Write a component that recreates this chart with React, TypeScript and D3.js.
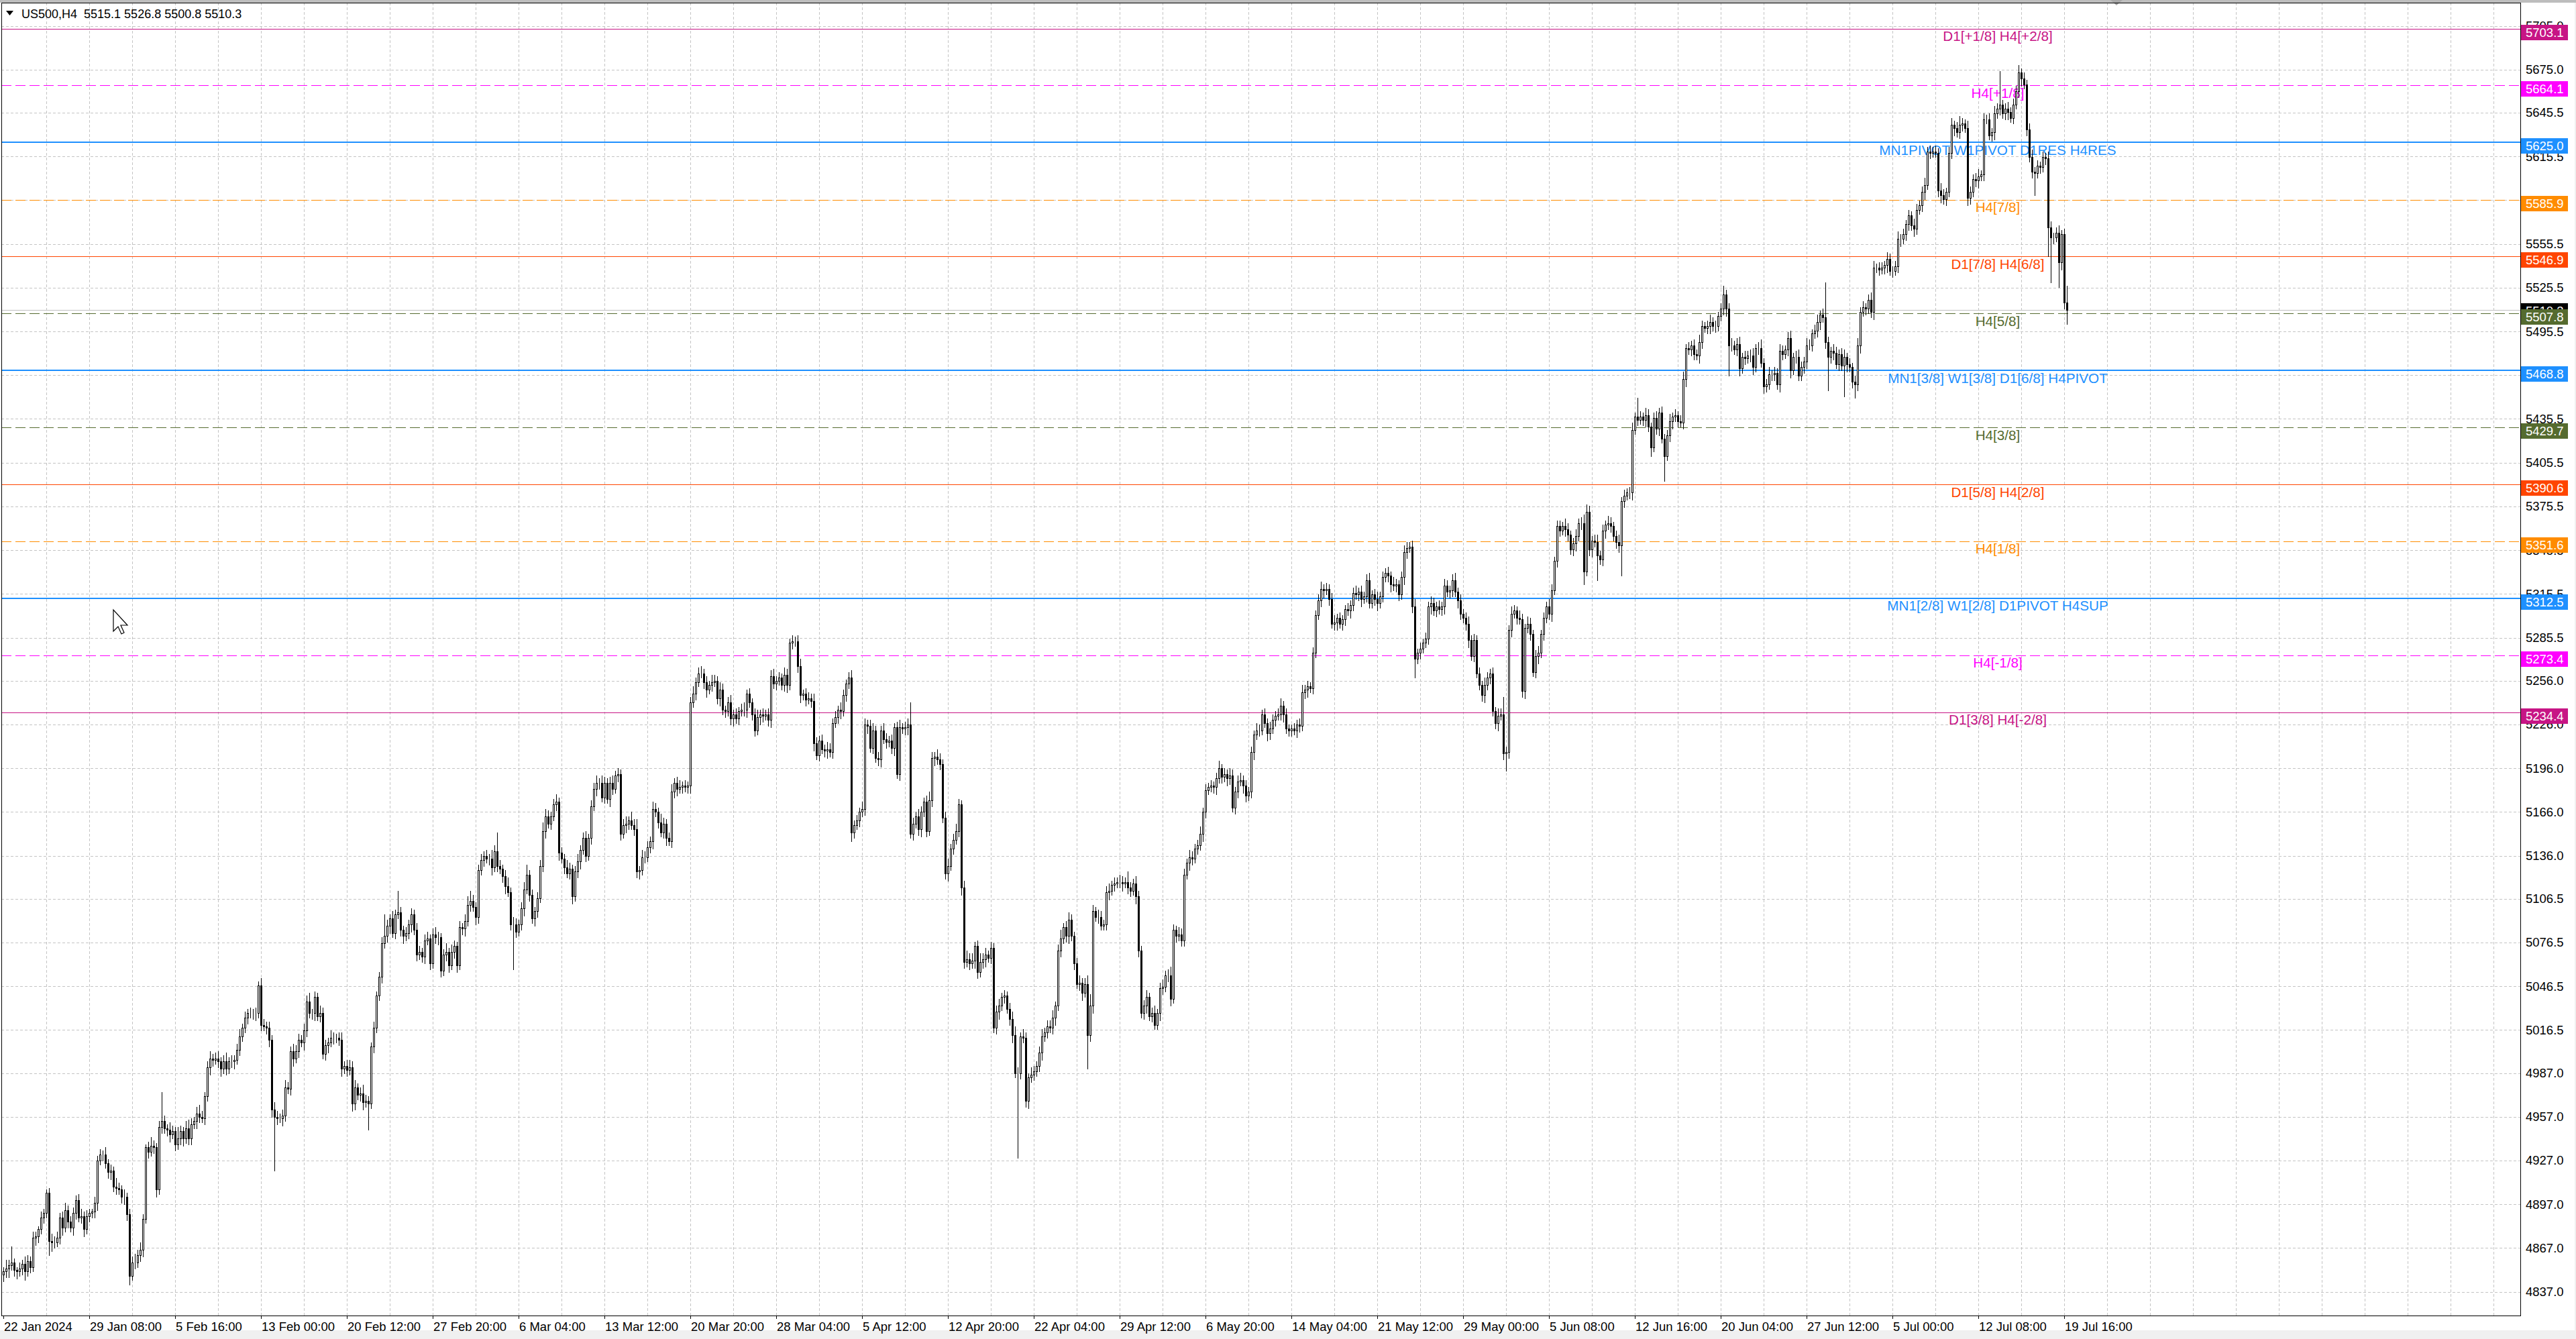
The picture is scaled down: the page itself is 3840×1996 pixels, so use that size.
import React from 'react';
import * as d3 from 'd3';

const symbol = 'US500,H4';
const firstOpen = 4849;

// H4 closes, one per bar, 22 Jan 2024 00:00 .. 19 Jul 2024 20:00
const closes = [
  4851, 4853, 4855, 4857, 4852, 4851, 4853, 4856, 4851, 4858,
  4854, 4874, 4875, 4880, 4888, 4891, 4905, 4872, 4871, 4871,
  4874, 4888, 4881, 4893, 4885, 4881, 4891, 4900, 4888, 4889,
  4880, 4889, 4891, 4892, 4898, 4927, 4931, 4931, 4925, 4919,
  4920, 4909, 4908, 4907, 4902, 4902, 4890, 4848, 4857, 4857,
  4862, 4866, 4887, 4936, 4933, 4937, 4936, 4907, 4950, 4954,
  4949, 4948, 4945, 4947, 4938, 4942, 4947, 4942, 4949, 4942,
  4952, 4954, 4959, 4957, 4956, 4971, 4991, 4997, 4996, 4997,
  4995, 4990, 4995, 4990, 4995, 4995, 4996, 5003, 5012, 5018,
  5025, 5028, 5028, 5028, 5028, 5047, 5020, 5019, 5018, 5010,
  4962, 4957, 4956, 4956, 4958, 4977, 4976, 5002, 4997, 5002,
  5010, 5008, 5016, 5036, 5028, 5028, 5039, 5026, 5028, 5000,
  5006, 5008, 5011, 5011, 5011, 5010, 4990, 4992, 4989, 4991,
  4966, 4977, 4972, 4973, 4967, 4968, 4966, 5005, 5018, 5040,
  5053, 5076, 5081, 5088, 5093, 5083, 5096, 5097, 5085, 5081,
  5083, 5089, 5096, 5085, 5068, 5070, 5067, 5078, 5079, 5062,
  5082, 5080, 5080, 5057, 5068, 5070, 5061, 5070, 5074, 5061,
  5087, 5086, 5091, 5102, 5105, 5101, 5094, 5126, 5133, 5136,
  5134, 5134, 5128, 5139, 5129, 5127, 5122, 5115, 5111, 5089,
  5089, 5084, 5089, 5100, 5113, 5123, 5109, 5093, 5098, 5107,
  5129, 5153, 5163, 5158, 5163, 5171, 5173, 5138, 5134, 5128,
  5124, 5127, 5108, 5125, 5132, 5140, 5148, 5136, 5148, 5170,
  5182, 5186, 5186, 5176, 5186, 5175, 5186, 5182, 5191, 5192,
  5151, 5157, 5158, 5160, 5157, 5154, 5125, 5126, 5135, 5135,
  5142, 5146, 5168, 5166, 5159, 5152, 5158, 5148, 5146, 5180,
  5186, 5182, 5183, 5184, 5183, 5184, 5241, 5247, 5255, 5261,
  5261, 5255, 5250, 5253, 5255, 5256, 5244, 5250, 5236, 5235,
  5241, 5230, 5233, 5230, 5235, 5236, 5236, 5247, 5241, 5233,
  5222, 5231, 5233, 5232, 5233, 5229, 5259, 5254, 5256, 5258,
  5253, 5260, 5253, 5282, 5283, 5283, 5266, 5246, 5247, 5243,
  5244, 5242, 5213, 5205, 5215, 5209, 5208, 5209, 5207, 5227,
  5231, 5236, 5235, 5246, 5254, 5258, 5152, 5157, 5160, 5166,
  5168, 5226, 5225, 5210, 5222, 5203, 5202, 5222, 5216, 5214,
  5215, 5210, 5224, 5192, 5224, 5223, 5224, 5226, 5151, 5158,
  5163, 5154, 5166, 5173, 5153, 5174, 5203, 5204, 5202, 5199,
  5162, 5124, 5129, 5141, 5147, 5153, 5171, 5114, 5063, 5065,
  5062, 5064, 5074, 5056, 5063, 5065, 5068, 5066, 5073, 5018,
  5029, 5033, 5039, 5040, 5031, 5024, 5013, 4987, 4987, 5012,
  5011, 4968, 4984, 4986, 4988, 4992, 5001, 5012, 5015, 5019,
  5018, 5025, 5033, 5071, 5079, 5087, 5081, 5092, 5081, 5062,
  5048, 5049, 5042, 5048, 5013, 5033, 5098, 5094, 5094, 5088,
  5089, 5111, 5112, 5116, 5117, 5118, 5118, 5117, 5118, 5114,
  5112, 5117, 5108, 5071, 5028, 5033, 5039, 5026, 5028, 5020,
  5028, 5045, 5046, 5054, 5054, 5038, 5085, 5081, 5082, 5078,
  5123, 5131, 5135, 5134, 5141, 5143, 5151, 5166, 5181, 5183,
  5184, 5183, 5189, 5196, 5190, 5192, 5189, 5191, 5169, 5180,
  5187, 5188, 5184, 5177, 5180, 5207, 5219, 5222, 5222, 5233,
  5227, 5220, 5223, 5229, 5232, 5233, 5239, 5233, 5223, 5222,
  5223, 5222, 5226, 5225, 5248, 5250, 5252, 5251, 5275, 5301,
  5311, 5319, 5318, 5319, 5312, 5295, 5296, 5299, 5295, 5298,
  5305, 5304, 5308, 5316, 5315, 5317, 5312, 5314, 5325, 5309,
  5315, 5312, 5309, 5314, 5327, 5330, 5328, 5322, 5321, 5322,
  5315, 5327, 5344, 5347, 5348, 5307, 5271, 5275, 5278, 5282,
  5285, 5307, 5309, 5304, 5307, 5305, 5307, 5321, 5317, 5318,
  5325, 5317, 5311, 5302, 5299, 5295, 5284, 5273, 5284, 5261,
  5253, 5246, 5253, 5258, 5261, 5235, 5227, 5232, 5233, 5206,
  5207, 5291, 5302, 5304, 5299, 5298, 5249, 5292, 5295, 5288,
  5262, 5273, 5275, 5288, 5299, 5307, 5302, 5318, 5338, 5362,
  5359, 5362, 5360, 5356, 5346, 5350, 5355, 5364, 5364, 5331,
  5372, 5346, 5352, 5351, 5342, 5339, 5359, 5363, 5364, 5362,
  5355, 5351, 5349, 5379, 5383, 5385, 5385, 5428, 5437, 5435,
  5437, 5435, 5438, 5430, 5416, 5436, 5429, 5440, 5422, 5410,
  5424, 5434, 5437, 5438, 5434, 5433, 5463, 5484, 5483, 5486,
  5480, 5479, 5488, 5499, 5498, 5499, 5502, 5499, 5499, 5506,
  5511, 5521, 5511, 5486, 5486, 5483, 5487, 5470, 5478, 5477,
  5479, 5479, 5471, 5484, 5484, 5474, 5458, 5459, 5466, 5466,
  5467, 5459, 5482, 5480, 5483, 5491, 5469, 5478, 5478, 5465,
  5471, 5475, 5486, 5486, 5494, 5496, 5502, 5507, 5505, 5488,
  5478, 5482, 5481, 5473, 5480, 5472, 5478, 5473, 5471, 5461,
  5459, 5486, 5509, 5512, 5511, 5517, 5509, 5539, 5539, 5538,
  5539, 5541, 5545, 5537, 5537, 5540, 5559, 5559, 5562, 5569,
  5575, 5568, 5566, 5579, 5582, 5591, 5596, 5619, 5618, 5619,
  5618, 5592, 5589, 5586, 5591, 5618, 5637, 5635, 5632, 5637,
  5638, 5635, 5587, 5591, 5600, 5599, 5602, 5603, 5641, 5641,
  5630, 5632, 5645, 5648, 5651, 5645, 5648, 5646, 5642, 5651,
  5660, 5673, 5669, 5665, 5634, 5615, 5605, 5604, 5609, 5608,
  5615, 5614, 5567, 5560, 5560, 5563, 5543, 5562, 5515.1, 5510.3,
];

// wick length above the body, points
const upWick = [
  3, 6, 4, 11, 3, 2, 4, 3, 5, 4, 3, 4, 3, 2, 4, 3, 2, 3, 5, 4,
  4, 3, 4, 5, 3, 4, 4, 3, 4, 5, 3, 4, 3, 2, 4, 3, 4, 3, 5, 3,
  4, 3, 6, 4, 3, 5, 3, 4, 4, 6, 4, 5, 3, 2, 4, 6, 4, 3, 4, 20,
  4, 3, 5, 4, 3, 8, 4, 3, 5, 6, 4, 3, 5, 6, 4, 3, 4, 5, 3, 4,
  5, 3, 4, 6, 3, 4, 3, 4, 5, 3, 4, 3, 4, 3, 4, 3, 5, 4, 3, 4,
  3, 5, 4, 3, 4, 5, 4, 3, 5, 4, 4, 3, 5, 4, 6, 3, 4, 3, 5, 4,
  4, 3, 5, 4, 3, 4, 5, 3, 4, 5, 4, 5, 3, 4, 6, 4, 3, 3, 4, 3,
  3, 4, 15, 4, 3, 5, 3, 15, 4, 3, 4, 3, 4, 3, 5, 4, 3, 4, 5, 3,
  4, 5, 4, 3, 4, 6, 3, 5, 4, 3, 4, 3, 5, 6, 7, 4, 3, 4, 4, 3,
  4, 3, 6, 4, 13, 4, 3, 4, 6, 3, 5, 4, 3, 4, 5, 7, 3, 4, 3, 4,
  4, 6, 5, 4, 3, 4, 5, 3, 4, 3, 5, 4, 3, 4, 5, 3, 4, 5, 3, 4,
  4, 5, 3, 5, 4, 3, 4, 5, 3, 4, 3, 4, 5, 3, 6, 4, 7, 3, 5, 4,
  4, 3, 5, 4, 3, 6, 4, 3, 4, 5, 3, 4, 5, 3, 4, 3, 4, 5, 3, 4,
  5, 3, 4, 3, 5, 4, 3, 5, 4, 3, 4, 5, 3, 4, 3, 4, 5, 3, 4, 3,
  4, 5, 3, 4, 3, 4, 4, 5, 3, 4, 3, 5, 4, 3, 4, 3, 4, 5, 3, 4,
  4, 3, 5, 4, 3, 4, 3, 5, 4, 3, 4, 3, 5, 4, 3, 4, 5, 3, 4, 3,
  5, 4, 3, 4, 5, 3, 4, 3, 5, 4, 3, 4, 3, 4, 5, 3, 4, 4, 15, 4,
  3, 5, 4, 3, 4, 6, 4, 3, 5, 4, 3, 4, 5, 3, 4, 5, 4, 3, 5, 6,
  4, 5, 3, 4, 6, 4, 5, 3, 4, 3, 4, 5, 3, 4, 3, 4, 5, 6, 4, 3,
  5, 4, 3, 5, 4, 3, 4, 5, 3, 4, 4, 5, 3, 4, 6, 3, 4, 5, 4, 3,
  4, 5, 3, 4, 6, 8, 4, 3, 5, 4, 3, 4, 5, 3, 4, 3, 5, 4, 3, 7,
  4, 3, 5, 4, 3, 4, 5, 3, 4, 5, 3, 4, 5, 3, 4, 6, 4, 3, 5, 4,
  4, 3, 5, 4, 3, 4, 5, 3, 4, 3, 4, 3, 4, 5, 3, 4, 3, 5, 4, 3,
  4, 5, 3, 4, 3, 4, 3, 5, 4, 3, 4, 3, 5, 4, 3, 4, 5, 3, 4, 3,
  3, 4, 3, 4, 5, 3, 4, 3, 4, 3, 4, 5, 3, 4, 3, 4, 5, 3, 4, 3,
  3, 4, 3, 4, 5, 3, 4, 3, 4, 5, 3, 4, 5, 3, 4, 3, 4, 3, 5, 4,
  3, 4, 5, 4, 3, 4, 5, 3, 4, 3, 4, 3, 5, 4, 3, 4, 3, 5, 4, 3,
  4, 5, 3, 4, 3, 4, 5, 3, 4, 3, 4, 3, 5, 4, 3, 4, 3, 5, 4, 12,
  4, 3, 5, 4, 3, 5, 4, 3, 5, 4, 3, 4, 5, 3, 4, 3, 5, 4, 3, 4,
  4, 3, 5, 4, 3, 4, 5, 3, 4, 6, 5, 4, 3, 4, 5, 3, 4, 3, 5, 4,
  3, 4, 5, 3, 4, 3, 4, 5, 3, 13, 4, 3, 5, 4, 3, 4, 5, 3, 4, 3,
  4, 5, 3, 4, 3, 4, 5, 3, 4, 3, 4, 3, 5, 4, 3, 4, 5, 3, 4, 3,
  4, 6, 3, 4, 5, 3, 4, 5, 3, 4, 3, 4, 5, 3, 4, 6, 3, 4, 5, 3,
  4, 3, 5, 4, 3, 4, 5, 3, 4, 5, 4, 3, 5, 4, 3, 4, 5, 3, 4, 24,
  4, 3, 5, 4, 3, 4, 5, 3, 4, 3, 4, 5, 3, 4, 3, 4, 5, 5, 3, 4,
  4, 3, 5, 4, 3, 4, 5, 3, 4, 3, 4, 3, 5, 4, 3, 4, 5, 3, 4, 3,
  4, 3, 5, 4, 3, 4, 5, 3, 4, 6, 4, 3, 5, 4, 3, 4, 5, 3, 4, 3,
  4, 3, 5, 4, 23, 3, 4, 5, 3, 4, 4, 5, 3, 4, 3, 4, 5, 3, 4, 3,
  4, 3, 5, 4, 3, 4, 5, 3, 4, 11.7,
];

// wick length below the body, points
const downWick = [
  5, 4, 6, 3, 4, 5, 3, 4, 6, 3, 4, 3, 5, 4, 3, 4, 3, 10, 6, 4,
  3, 4, 5, 3, 4, 3, 5, 4, 3, 4, 5, 3, 4, 3, 4, 5, 3, 4, 3, 4,
  5, 3, 4, 3, 4, 5, 4, 6, 3, 4, 3, 4, 5, 3, 4, 3, 4, 5, 3, 4,
  3, 4, 5, 3, 4, 3, 4, 5, 3, 4, 4, 3, 5, 4, 3, 4, 3, 5, 4, 3,
  4, 5, 3, 4, 3, 4, 5, 3, 4, 3, 3, 4, 3, 4, 5, 3, 4, 3, 4, 5,
  5, 37, 4, 3, 5, 4, 3, 4, 5, 3, 4, 3, 5, 4, 3, 4, 5, 3, 4, 3,
  4, 5, 3, 4, 3, 4, 5, 3, 4, 3, 5, 4, 3, 4, 5, 3, 18, 3, 4, 3,
  3, 4, 3, 4, 5, 3, 4, 3, 4, 5, 3, 4, 5, 3, 4, 3, 4, 5, 3, 4,
  3, 4, 5, 4, 3, 4, 5, 3, 4, 5, 3, 4, 5, 3, 4, 3, 5, 4, 3, 4,
  3, 4, 5, 3, 4, 3, 4, 5, 3, 4, 31, 4, 3, 4, 5, 3, 4, 3, 5, 4,
  3, 4, 5, 3, 4, 3, 4, 5, 3, 4, 3, 4, 5, 3, 4, 5, 3, 4, 3, 4,
  3, 5, 4, 3, 4, 3, 5, 4, 3, 4, 4, 3, 5, 4, 3, 4, 4, 5, 3, 4,
  3, 4, 5, 3, 4, 3, 4, 5, 3, 4, 4, 5, 3, 4, 3, 4, 5, 3, 4, 3,
  3, 4, 5, 3, 4, 3, 4, 5, 3, 4, 3, 4, 5, 3, 4, 3, 4, 5, 3, 4,
  4, 3, 5, 4, 3, 4, 5, 3, 4, 3, 3, 4, 5, 3, 4, 3, 4, 5, 3, 4,
  3, 4, 5, 3, 4, 3, 4, 5, 3, 4, 3, 4, 5, 3, 4, 3, 6, 4, 3, 4,
  3, 4, 5, 3, 4, 3, 4, 5, 3, 4, 3, 4, 5, 3, 4, 3, 4, 5, 3, 4,
  3, 4, 5, 3, 4, 3, 4, 5, 3, 4, 3, 4, 5, 3, 4, 3, 4, 5, 4, 3,
  4, 3, 5, 4, 3, 4, 5, 3, 4, 3, 4, 5, 3, 4, 3, 4, 5, 3, 58, 4,
  3, 4, 5, 3, 4, 3, 4, 5, 3, 4, 3, 4, 5, 3, 4, 3, 4, 5, 3, 4,
  3, 4, 5, 3, 23, 4, 5, 3, 4, 3, 3, 4, 5, 3, 4, 3, 4, 5, 3, 4,
  4, 3, 5, 4, 3, 4, 5, 3, 4, 3, 3, 5, 4, 3, 4, 5, 3, 4, 3, 4,
  4, 3, 5, 4, 3, 4, 3, 5, 4, 3, 3, 4, 5, 3, 4, 3, 5, 4, 3, 4,
  4, 3, 5, 4, 3, 4, 5, 3, 4, 3, 3, 5, 4, 3, 4, 3, 4, 5, 3, 4,
  4, 3, 5, 4, 3, 4, 5, 3, 4, 3, 3, 4, 5, 3, 4, 3, 4, 5, 3, 4,
  4, 3, 5, 4, 3, 4, 5, 3, 4, 3, 3, 4, 5, 3, 4, 3, 4, 5, 3, 4,
  4, 3, 5, 4, 3, 4, 13, 3, 4, 3, 3, 4, 5, 3, 4, 3, 4, 5, 3, 4,
  4, 3, 5, 4, 3, 4, 5, 3, 4, 3, 3, 4, 5, 3, 4, 3, 4, 5, 3, 4,
  12, 4, 5, 3, 4, 3, 4, 5, 3, 4, 3, 4, 5, 3, 4, 3, 4, 5, 3, 4,
  4, 3, 5, 4, 3, 4, 5, 3, 4, 9, 3, 4, 5, 3, 17, 3, 4, 5, 3, 4,
  3, 4, 5, 21, 4, 3, 4, 5, 3, 4, 3, 4, 5, 3, 6, 3, 4, 5, 3, 17,
  3, 4, 5, 3, 4, 3, 4, 5, 3, 4, 4, 3, 5, 4, 3, 4, 5, 3, 4, 3,
  3, 4, 5, 21, 4, 3, 4, 5, 3, 4, 3, 4, 5, 3, 4, 3, 5, 4, 3, 4,
  4, 3, 5, 4, 3, 4, 5, 3, 4, 3, 3, 4, 5, 3, 4, 3, 4, 5, 3, 4,
  23, 4, 5, 3, 4, 3, 21, 5, 3, 4, 9, 4, 5, 3, 4, 3, 4, 5, 3, 4,
  3, 4, 5, 3, 4, 3, 4, 5, 3, 4, 4, 3, 5, 4, 3, 4, 5, 3, 4, 3,
  3, 4, 5, 3, 4, 3, 4, 5, 3, 4, 4, 3, 5, 4, 3, 4, 5, 3, 4, 3,
  3, 4, 5, 3, 4, 3, 4, 5, 3, 4, 3, 4, 5, 3, 4, 3, 4, 15, 3, 4,
  3, 4, 20, 31, 4, 3, 17, 5, 4, 9.5,
];

const timeLabels = [
  '22 Jan 2024', '29 Jan 08:00', '5 Feb 16:00', '13 Feb 00:00', '20 Feb 12:00',
  '27 Feb 20:00', '6 Mar 04:00', '13 Mar 12:00', '20 Mar 20:00', '28 Mar 04:00',
  '5 Apr 12:00', '12 Apr 20:00', '22 Apr 04:00', '29 Apr 12:00', '6 May 20:00',
  '14 May 04:00', '21 May 12:00', '29 May 00:00', '5 Jun 08:00', '12 Jun 16:00',
  '20 Jun 04:00', '27 Jun 12:00', '5 Jul 00:00', '12 Jul 08:00', '19 Jul 16:00',
];

const priceTicks = [
  5705.0, 5675.0, 5645.5, 5615.5, 5585.5, 5555.5, 5525.5, 5495.5, 5465.5, 5435.5,
  5405.5, 5375.5, 5345.5, 5315.5, 5285.5, 5256.0, 5226.0, 5196.0, 5166.0, 5136.0,
  5106.5, 5076.5, 5046.5, 5016.5, 4987.0, 4957.0, 4927.0, 4897.0, 4867.0, 4837.0,
];

const levelPrices = [
  5703.1, 5664.1, 5625.0, 5585.9, 5546.9, 5507.8, 5468.8,
  5429.7, 5390.6, 5351.6, 5312.5, 5273.4, 5234.4,
];
const levelNames = [
  'D1[+1/8] H4[+2/8]', 'H4[+1/8]', 'MN1PIVOT W1PIVOT D1RES H4RES', 'H4[7/8]',
  'D1[7/8] H4[6/8]', 'H4[5/8]', 'MN1[3/8] W1[3/8] D1[6/8] H4PIVOT', 'H4[3/8]',
  'D1[5/8] H4[2/8]', 'H4[1/8]', 'MN1[2/8] W1[2/8] D1PIVOT H4SUP', 'H4[-1/8]',
  'D1[3/8] H4[-2/8]',
];

// line styles for each level, same order as levelPrices
const purple = { color: '#C71585', dash: undefined, width: 1 };
const magenta = { color: '#FF00FF', dash: '15,6', width: 1 };
const blue = { color: '#1E90FF', dash: undefined, width: 2 };
const orange = { color: '#FF8C00', dash: '15,6', width: 1 };
const red = { color: '#FF4500', dash: undefined, width: 1 };
const olive = { color: '#556B2F', dash: '15,6', width: 1 };
const levelStyles = [purple, magenta, blue, orange, red, olive, blue, olive, red, orange, blue, magenta, purple];

const W = 3840;
const H = 1996;
const plot = { left: 2, top: 4, right: 3757, bottom: 1961 };
const FONT = '"Liberation Sans", Arial, sans-serif';

export default function App() {
  const x = d3.scaleLinear().domain([0, 938]).range([5, 3757]);
  const y = d3.scaleLinear().domain([4837, 5675]).range([1925.6, 103.8]);

  const bars = closes.map((c, i) => {
    const o = i === 0 ? firstOpen : closes[i - 1];
    return { o, c, h: Math.max(o, c) + upWick[i], l: Math.min(o, c) - downWick[i] };
  });
  const last = bars[bars.length - 1];
  const lastClose = last.c;

  const vGrid = d3.range(16, 939, 16);
  const px = (v: number) => Math.round(v) + 0.5;

  const header = `${symbol}  ${last.o.toFixed(1)} ${last.h.toFixed(1)} ${last.l.toFixed(1)} ${last.c.toFixed(1)}`;

  return (
    <svg width={W} height={H} style={{ position: 'absolute', left: 0, top: 0, background: '#fff' }} fontFamily={FONT}>
      <rect x={0} y={0} width={W} height={H} fill="#F0F0F0" />
      <rect x={0} y={0} width={W} height={4} fill="#BDBDBD" />
      <rect x={0} y={4} width={3838} height={1979} fill="#FFFFFF" />
      <polygon points="3146,0 3164,0 3155,8" fill="#A8A8A8" />

      <defs>
        <clipPath id="plotClip">
          <rect x={plot.left} y={plot.top} width={plot.right - plot.left} height={plot.bottom - plot.top} />
        </clipPath>
      </defs>

      {/* grid */}
      <g stroke="#C4C4C4" strokeWidth={1} strokeDasharray="4,3" clipPath="url(#plotClip)">
        {priceTicks.map(t => (
          <line key={'h' + t} x1={plot.left} x2={plot.right} y1={px(y(t))} y2={px(y(t))} />
        ))}
        {vGrid.map(i => (
          <line key={'v' + i} x1={px(x(i))} x2={px(x(i))} y1={plot.top} y2={plot.bottom} />
        ))}
      </g>

      {/* levels */}
      <g clipPath="url(#plotClip)">
        <line x1={plot.left} x2={plot.right} y1={px(y(lastClose))} y2={px(y(lastClose))} stroke="#C0C0C0" strokeWidth={1} />
        {levelPrices.map((p, i) => {
          const st = levelStyles[i];
          const ly = st.width === 2 ? Math.round(y(p)) : px(y(p));
          return (
            <g key={'lv' + i}>
              <line x1={plot.left} x2={plot.right} y1={ly} y2={ly} stroke={st.color} strokeWidth={st.width} strokeDasharray={st.dash} />
              <text x={2978} y={y(p) + 18.5} fontSize={20.7} fill={st.color} textAnchor="middle">{levelNames[i]}</text>
            </g>
          );
        })}
      </g>

      {/* candles */}
      <g clipPath="url(#plotClip)">
        {bars.map((b, i) => {
          const cx = Math.round(x(i));
          const yo = y(b.o);
          const yc = y(b.c);
          const top = Math.round(Math.min(yo, yc));
          const bot = Math.round(Math.max(yo, yc));
          const bull = b.c >= b.o;
          return (
            <g key={'c' + i}>
              <line x1={cx + 0.5} x2={cx + 0.5} y1={Math.round(y(b.h))} y2={Math.round(y(b.l)) + 1} stroke="#000" strokeWidth={1} />
              <rect x={cx - 0.5} y={top + 0.5} width={2} height={Math.max(0, bot - top)} fill={bull ? '#FFFFFF' : '#000000'} stroke="#000" strokeWidth={1} />
            </g>
          );
        })}
      </g>

      {/* frame */}
      <rect x={plot.left + 0.5} y={plot.top + 0.5} width={plot.right - plot.left} height={plot.bottom - plot.top} fill="none" stroke="#000" strokeWidth={1} />

      {/* price axis */}
      <g fontSize={18.5} fill="#000">
        {priceTicks.map(t => (
          <text key={'pt' + t} x={3765} y={y(t) + 6.5}>{t.toFixed(1)}</text>
        ))}
      </g>
      <g fontSize={18.5}>
        <rect x={3758} y={Math.round(y(lastClose)) - 10} width={70} height={23} fill="#000" />
        <text x={3765} y={Math.round(y(lastClose)) + 8} fill="#fff">{lastClose.toFixed(1)}</text>
        {levelPrices.map((p, i) => (
          <g key={'bx' + i}>
            <rect x={3758} y={Math.round(y(p)) - 6} width={70} height={23} fill={levelStyles[i].color} />
            <text x={3765} y={Math.round(y(p)) + 12} fill="#fff">{p.toFixed(1)}</text>
          </g>
        ))}
      </g>

      {/* time axis */}
      <g fontSize={18.5} fill="#000">
        {timeLabels.map((lab, k) => {
          const tx = Math.round(x(k * 32));
          return (
            <g key={'tl' + k}>
              <line x1={tx + 0.5} x2={tx + 0.5} y1={plot.bottom} y2={plot.bottom + 5} stroke="#000" />
              <text x={tx + 1} y={1984}>{lab}</text>
            </g>
          );
        })}
      </g>

      {/* header */}
      <polygon points="9,16 20,16 14.5,23" fill="#000" />
      <text x={32} y={26.5} fontSize={18} fill="#000" style={{ whiteSpace: 'pre' }}>{header}</text>

      {/* mouse pointer */}
      <polygon
        points="169,909 169,941 176,934 181,945 185,943 180,932 190,932"
        fill="#fff" stroke="#000" strokeWidth={1.2}
      />
    </svg>
  );
}
